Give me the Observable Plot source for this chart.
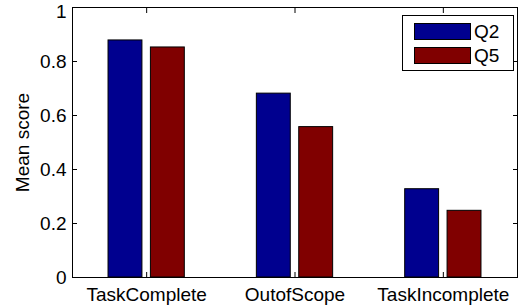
<!DOCTYPE html>
<html><head><meta charset="utf-8">
<script src="https://cdn.jsdelivr.net/npm/d3@7"></script>
<script src="https://cdn.jsdelivr.net/npm/@observablehq/plot@0.6"></script>
<style>
body{margin:0;background:#fff;}
#wrap{position:relative;width:519px;height:308px;font-family:"Liberation Sans",Arial,sans-serif;}
#legend{position:absolute;left:402px;top:15px;width:112px;height:56px;border:1px solid #000;background:#fff;box-sizing:border-box;}
.item{position:absolute;left:11px;display:flex;align-items:center;font-size:19px;line-height:17px;color:#000;}
.sw{width:57px;height:17px;border:1px solid #000;box-sizing:border-box;margin-right:3px;}
</style></head><body><div id="wrap"></div>
<script>
const categories = ["TaskComplete", "OutofScope", "TaskIncomplete"];
const seriesNames = ["Q2", "Q5"];
const q2 = [0.878, 0.681, 0.327];
const q5 = [0.852, 0.557, 0.247];
const seriesColors = ["#00008f", "#800000"];
const yTicks = [0, 0.2, 0.4, 0.6, 0.8, 1];
const yTickLabels = ["0", "0.2", "0.4", "0.6", "0.8", "1"];

const seriesValues = [q2, q5];
const nS = seriesNames.length;
// MATLAB grouped bar layout
const groupWidth = Math.min(0.8, nS / (nS + 1.5));
const barW = groupWidth / nS * 0.8;
const rows = [];
categories.forEach((c, i) => {
  seriesNames.forEach((s, j) => {
    const center = (i + 1) - groupWidth / 2 + (j + 0.5) * groupWidth / nS;
    rows.push({cat: c, series: s, value: seriesValues[j][i], x1: center - barW / 2, x2: center + barW / 2});
  });
});
const catTicks = categories.map((c, i) => i + 1);
const yLab = d => yTickLabels[yTicks.indexOf(d)];
const yTop = yTicks[yTicks.length - 1];

const plot = Plot.plot({
  width: 519, height: 308,
  marginLeft: 72, marginRight: 2, marginTop: 7, marginBottom: 31,
  style: {fontFamily: "'Liberation Sans', Arial, sans-serif", fontSize: "19px", color: "#000", background: "#fff"},
  x: {domain: [0.5, categories.length + 0.5]},
  y: {domain: [0, 1]},
  color: {domain: seriesNames, range: seriesColors},
  marks: [
    Plot.rectY(rows, {x1: "x1", x2: "x2", y1: 0, y2: "value", fill: "series", stroke: "#000", strokeWidth: 1}),
    Plot.axisX({anchor: "bottom", ticks: catTicks, tickSize: 0, tickPadding: 10, tickFormat: d => categories[d - 1], label: null}),
    Plot.axisX({anchor: "bottom", ticks: catTicks, tickSize: -5, tickFormat: () => "", label: null}),
    Plot.axisX({anchor: "top", ticks: catTicks, tickSize: -5, tickFormat: () => "", label: null}),
    Plot.axisY({anchor: "left", ticks: yTicks.slice(0, -1), tickSize: 0, tickPadding: 6, tickFormat: yLab, label: "Mean score", labelArrow: "none", labelAnchor: "center", labelOffset: 57}),
    Plot.axisY({anchor: "left", ticks: [yTop], tickSize: 0, tickPadding: 6, dy: 4, tickFormat: yLab, label: null}),
    Plot.axisY({anchor: "left", ticks: yTicks, tickSize: -5, tickFormat: () => "", label: null}),
    Plot.axisY({anchor: "right", ticks: yTicks, tickSize: -5, tickFormat: () => "", label: null}),
    Plot.frame({stroke: "#000", strokeWidth: 1})
  ]
});
const wrap = document.getElementById("wrap");
wrap.appendChild(plot);

const legend = document.createElement("div");
legend.id = "legend";
seriesNames.forEach((s, j) => {
  const item = document.createElement("div");
  item.className = "item";
  item.style.top = (7 + j * 23.5) + "px";
  const sw = document.createElement("div");
  sw.className = "sw";
  sw.style.background = plot.scale("color").apply(s);
  const t = document.createElement("span");
  t.textContent = s;
  item.appendChild(sw);
  item.appendChild(t);
  legend.appendChild(item);
});
wrap.appendChild(legend);
</script>
</body></html>
